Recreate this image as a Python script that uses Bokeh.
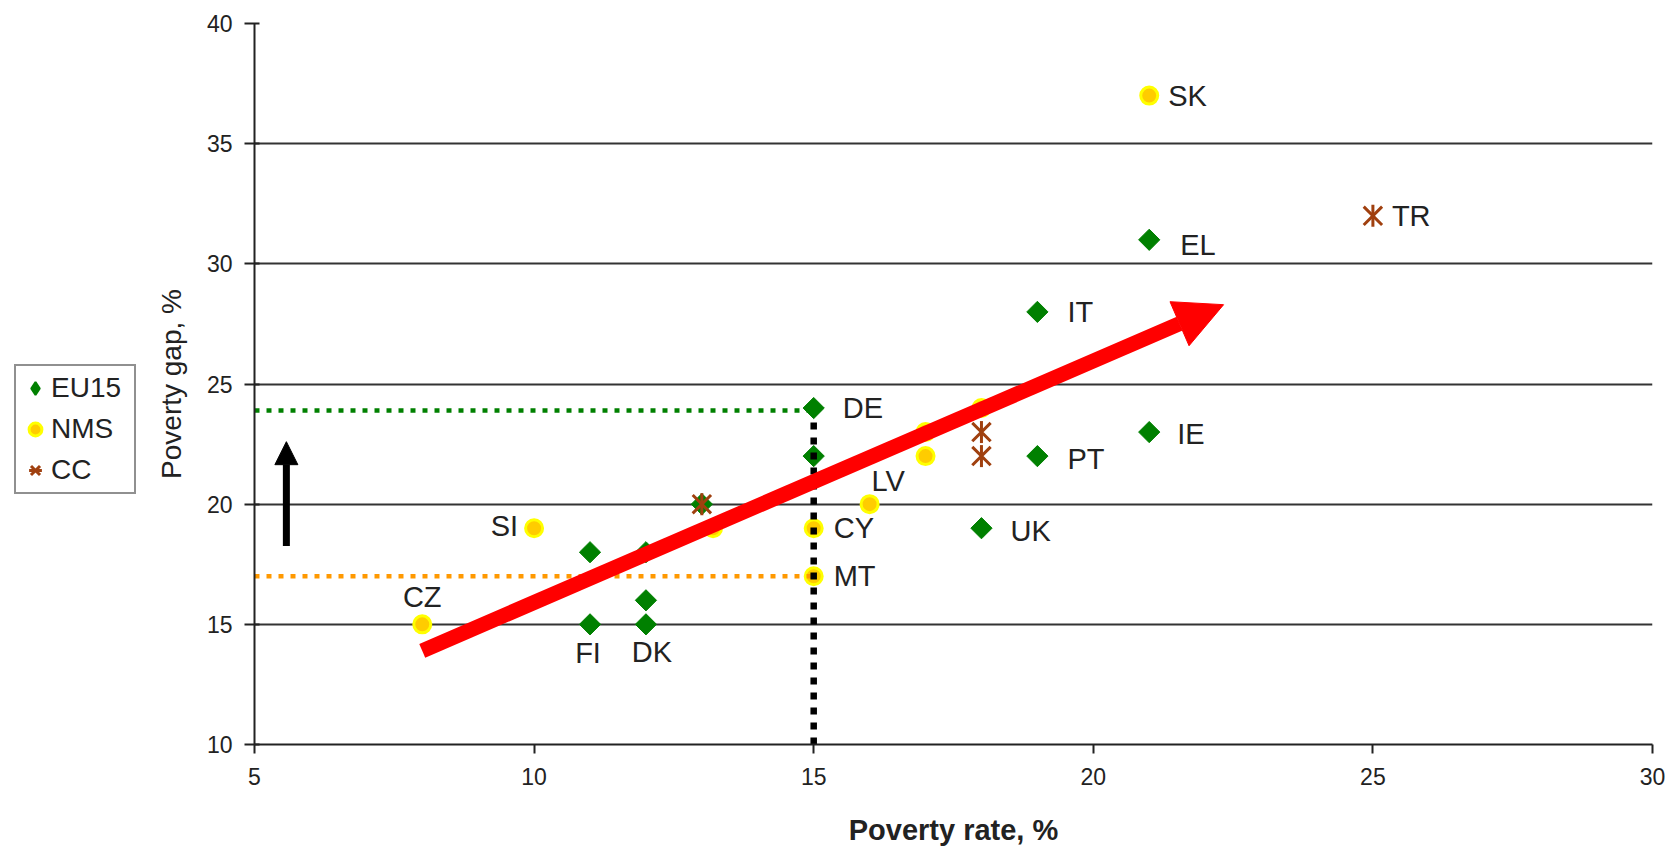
from bokeh.plotting import figure
from bokeh.layouts import row
from bokeh.models import (Range1d, FixedTicker, Arrow, NormalHead, Legend,
                          LegendItem, ColumnDataSource)
from bokeh.core.properties import value
from bokeh.embed import file_html
from bokeh.resources import INLINE
import math

# ---------------- data ----------------
eu15_x = [15, 15, 11, 11, 12, 12, 12, 13, 18, 19, 21, 19, 21]
eu15_y = [24, 22, 15, 18, 15, 16, 18, 20, 19, 22, 23, 28, 31]
eu15_lab = ["DE", "", "FI", "", "DK", "", "", "", "UK", "PT", "IE", "IT", "EL"]

nms_x = [21, 10, 8, 15, 15, 16, 17, 17, 18, 13.2]
nms_y = [37, 19, 15, 19, 17, 20, 23, 22, 24, 19]
nms_lab = ["SK", "SI", "CZ", "CY", "MT", "LV", "", "", "", ""]

cc_x = [25, 13, 18, 18]
cc_y = [32, 20, 23, 22]
cc_lab = ["TR", "", "", ""]

x_ticks = [5, 10, 15, 20, 25, 30]
y_ticks = [10, 15, 20, 25, 30, 35, 40]

# reference lines / arrows (data coordinates)
eu_ref_x = [5, 15]
eu_ref_y = [23.9, 23.9]
nms_ref_x = [5, 15]
nms_ref_y = [17, 17]
rate_ref_x = [15, 15]
rate_ref_y = [10, 23.7]
up_arrow_x = [5.57, 5.57]
up_arrow_y = [18.26, 22.6]
trend_x = [8.0, 22.33]
trend_y = [13.9, 28.3]

# ---------------- label styling (screen offsets) ----------------
label_style = {
    "SK": (19, 0, "left"), "TR": (19, 0, "left"), "EL": (31, 5, "left"),
    "IT": (30, 0, "left"), "DE": (29, 0, "left"), "IE": (28, 2, "left"),
    "PT": (30, 3, "left"), "LV": (2, -23, "left"), "SI": (-16, -2, "right"),
    "CY": (20, 0, "left"), "UK": (29, 3, "left"), "MT": (20, 0, "left"),
    "CZ": (0, -27, "center"), "FI": (-2, 29, "center"), "DK": (6, 28, "center"),
}

FONT = "Liberation Sans"
TXT = "#222222"
GREEN = "#008000"
NMS_FILL = "#FFCC00"
NMS_LINE = "#FFFF00"
BROWN = "#A0400F"

LEG_W = 140

p = figure(width=1665 - LEG_W, height=848, output_backend="svg", toolbar_location=None,
           x_range=Range1d(5, 30), y_range=Range1d(10, 40),
           min_border_left=254 - LEG_W, min_border_right=13, min_border_top=23,
           min_border_bottom=102)
p.outline_line_color = None
p.background_fill_color = "white"
p.border_fill_color = "white"

p.xgrid.visible = False
p.ygrid.ticker = FixedTicker(ticks=y_ticks)
p.ygrid.grid_line_color = "#333333"
p.ygrid.grid_line_width = 2

p.xaxis.ticker = FixedTicker(ticks=x_ticks)
p.yaxis.ticker = FixedTicker(ticks=y_ticks)
for ax in (p.xaxis[0], p.yaxis[0]):
    ax.axis_line_width = 2
    ax.axis_line_color = "#222222"
    ax.major_tick_line_width = 2
    ax.major_tick_line_color = "#222222"
    ax.minor_tick_line_color = None
    ax.major_label_text_font = FONT
    ax.major_label_text_font_size = "23px"
    ax.major_label_text_color = TXT
    ax.axis_label_text_font = FONT
    ax.axis_label_text_color = TXT

p.xaxis.major_tick_out = 9
p.xaxis.major_tick_in = 0
p.xaxis.major_label_standoff = 14
p.xaxis.axis_label = "Poverty rate, %"
p.xaxis.axis_label_text_font_style = "bold"
p.xaxis.axis_label_text_font_size = "29px"
p.xaxis.axis_label_standoff = 26

p.yaxis.major_tick_out = 10
p.yaxis.major_tick_in = 5
p.yaxis.major_label_standoff = 12
p.yaxis.axis_label = "Poverty gap, %"
p.yaxis.axis_label_text_font_style = "normal"
p.yaxis.axis_label_text_font_size = "28px"
p.yaxis.axis_label_standoff = 17

# ---------------- markers ----------------
eu_style = dict(marker="square", size=15, angle=math.pi / 4,
                fill_color=GREEN, line_color=GREEN, line_width=1)
nms_style = dict(marker="circle", size=17, fill_color=NMS_FILL,
                 line_color=NMS_LINE, line_width=3)
ccx_style = dict(marker="x", size=26, line_color=BROWN, line_width=3)
ccd_style = dict(marker="dash", size=22, angle=math.pi / 2, line_color=BROWN, line_width=3)

p.scatter(eu15_x, eu15_y, **eu_style)
p.scatter(nms_x, nms_y, **nms_style)
p.scatter(cc_x, cc_y, **ccx_style)
p.scatter(cc_x, cc_y, **ccd_style)

# ---------------- labels ----------------
lx, ly, lt, ldx, ldy, lal = [], [], [], [], [], []
for xs, ys, labs in ((eu15_x, eu15_y, eu15_lab), (nms_x, nms_y, nms_lab), (cc_x, cc_y, cc_lab)):
    for x, y, t in zip(xs, ys, labs):
        if t:
            dx, dy, al = label_style[t]
            lx.append(x); ly.append(y); lt.append(t)
            ldx.append(dx); ldy.append(dy); lal.append(al)
src = ColumnDataSource(dict(x=lx, y=ly, text=lt, dx=ldx, dy=ldy, align=lal))
p.text(x="x", y="y", text="text", x_offset="dx", y_offset="dy", text_align="align",
       text_baseline="middle", text_font=value(FONT), text_font_size="29px",
       text_color=TXT, source=src)

# ---------------- reference lines ----------------
p.line(eu_ref_x, eu_ref_y, line_color=GREEN, line_width=4.5, line_dash="5 7")
p.line(nms_ref_x, nms_ref_y, line_color="#FF9900", line_width=4.5, line_dash="5 7")
p.line(rate_ref_x, rate_ref_y, line_color="black", line_width=6.5, line_dash="7 8")

# ---------------- arrows ----------------
p.add_layout(Arrow(x_start=up_arrow_x[0], y_start=up_arrow_y[0],
                   x_end=up_arrow_x[1], y_end=up_arrow_y[1],
                   line_color="black", line_width=7,
                   end=NormalHead(size=23, fill_color="black", line_color="black", line_width=1)))
p.add_layout(Arrow(x_start=trend_x[0], y_start=trend_y[0],
                   x_end=trend_x[1], y_end=trend_y[1],
                   line_color="#FF0000", line_width=15,
                   end=NormalHead(size=48, fill_color="#FF0000", line_color="#FF0000", line_width=1)))

# ---------------- legend (in its own strip left of the chart) ----------------
# The strip's ranges exclude all data, so its renderers only feed the legend glyphs.
lf = figure(width=LEG_W, height=848, output_backend="svg", toolbar_location=None,
            x_range=Range1d(0, 1), y_range=Range1d(0, 1),
            x_axis_location=None, y_axis_location=None, min_border=0)
lf.grid.visible = False
lf.outline_line_color = None
lf.background_fill_color = "white"
lf.border_fill_color = "white"
lr_eu = lf.scatter(eu15_x, eu15_y, marker="diamond", size=15,
                   fill_color=GREEN, line_color=GREEN, line_width=2)
lr_nms = lf.scatter(nms_x, nms_y, **nms_style)
lr_ccx = lf.scatter(cc_x, cc_y, **ccx_style)
lr_ccd = lf.scatter(cc_x, cc_y, **ccd_style)

legend = Legend(items=[LegendItem(label="EU15", renderers=[lr_eu]),
                       LegendItem(label="NMS", renderers=[lr_nms]),
                       LegendItem(label="CC", renderers=[lr_ccx, lr_ccd])],
                location=(14, 250))
legend.border_line_color = "#222222"
legend.border_line_width = 2
legend.background_fill_color = "white"
legend.background_fill_alpha = 1
legend.label_text_font = FONT
legend.label_text_font_size = "28px"
legend.label_text_color = TXT
legend.glyph_width = 32
legend.glyph_height = 38
legend.label_width = 80
legend.padding = 3
legend.spacing = 3
legend.label_standoff = 0
legend.margin = 0
lf.add_layout(legend, "center")

layout = row(lf, p, spacing=0)
open("out.html", "w").write(file_html(layout, INLINE))
